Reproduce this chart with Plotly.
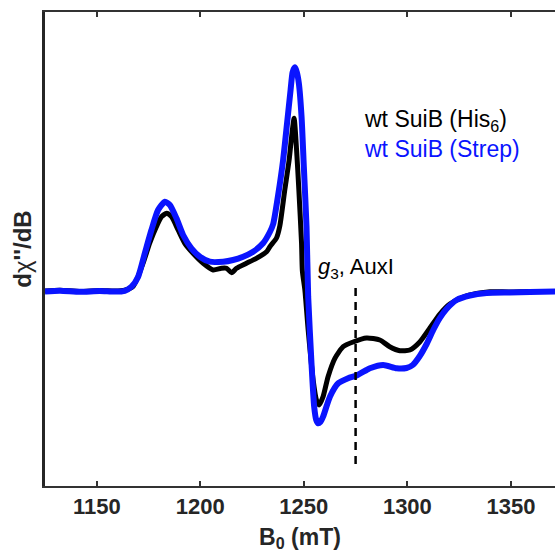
import plotly.graph_objects as go

# Field (mT) and derivative signal (arb. units)
his6_field = [1125.0, 1132.2, 1141.8, 1151.4, 1158.7, 1163.5, 1167.4, 1169.2, 1172.4, 1175.6,
              1178.8, 1181.3, 1183.7, 1186.1, 1189.3, 1192.5, 1196.5, 1201.4, 1206.2, 1210.2,
              1212.7, 1215.1, 1217.5, 1222.3, 1227.1, 1232.0, 1233.6, 1236.8, 1238.4, 1240.8,
              1242.9, 1244.1, 1245.3, 1246.5, 1247.6, 1248.9, 1249.3, 1250.5, 1252.1, 1254.5,
              1256.1, 1257.4, 1259.3, 1261.7, 1265.0, 1269.0, 1273.8, 1280.3, 1286.7, 1291.5,
              1296.4, 1301.2, 1306.0, 1310.9, 1315.7, 1320.5, 1327.0, 1333.4, 1339.9, 1349.5,
              1359.2, 1371.3]
his6_signal = [0.0, 0.8, -0.5, 0.6, 0.0, 0.8, 4.3, 11.0, 28.0, 48.0,
               64.3, 74.3, 77.7, 74.3, 61.0, 47.7, 37.7, 27.7, 21.0, 22.7,
               22.7, 18.3, 22.7, 27.7, 32.7, 39.3, 44.3, 53.0, 65.0, 101.0,
               131.0, 154.3, 172.7, 141.0, 101.0, 47.7, 20.0, 1.0, -39.0, -89.0,
               -109.0, -114.0, -105.7, -85.7, -67.3, -55.7, -51.0, -47.0, -49.0, -55.7,
               -59.7, -59.0, -51.0, -37.0, -23.0, -13.0, -6.0, -2.5, -0.7, -1.0,
               -0.5, -0.5]

strep_field = [1125.0, 1132.2, 1141.8, 1151.4, 1158.7, 1163.5, 1166.8, 1170.0, 1173.2, 1176.4,
               1179.6, 1182.9, 1185.3, 1188.5, 1191.7, 1195.7, 1199.8, 1204.6, 1211.0, 1215.8,
               1220.7, 1225.5, 1230.3, 1233.6, 1235.2, 1237.6, 1240.0, 1241.9, 1243.6, 1244.6,
               1245.7, 1246.6, 1247.6, 1248.9, 1250.0, 1251.3, 1252.1, 1253.7, 1255.0, 1256.0,
               1256.9, 1258.0, 1259.3, 1262.6, 1266.6, 1271.4, 1275.5, 1280.3, 1281.9, 1288.3,
               1294.8, 1299.6, 1302.6, 1306.0, 1309.3, 1312.5, 1315.7, 1318.9, 1323.8, 1330.2,
               1338.3, 1349.5, 1359.2, 1371.3]
strep_signal = [-0.5, 0.2, -0.8, 0.0, -0.6, 0.2, 4.3, 14.3, 37.7, 61.0,
                81.0, 89.3, 86.0, 72.7, 56.0, 42.7, 34.3, 29.3, 29.3, 31.0,
                34.3, 39.3, 47.7, 59.0, 67.0, 96.0, 131.0, 167.7, 201.0, 219.0,
                223.7, 219.0, 207.7, 174.3, 124.3, 64.3, -5.7, -72.3, -115.7, -129.0,
                -132.3, -131.0, -125.7, -105.7, -92.3, -87.3, -84.5, -79.0, -77.3, -74.0,
                -77.3, -77.0, -74.0, -65.0, -53.0, -39.0, -27.0, -18.0, -9.0, -4.5,
                -2.0, -1.5, -1.0, -0.5]

series_names = ["wt SuiB (His<sub>6</sub>)", "wt SuiB (Strep)"]
series_colors = ["#000000", "#0a14ff"]

g3_field = 1275.0
g3_span = [3.0, -177.0]
g3_label = "<i>g</i><sub>3</sub>, AuxI"

x_ticks = [1150, 1200, 1250, 1300, 1350]
x_range = [1125, 1371.3]
y_range = [-195, 279]

FONT = "Liberation Sans, Arial, Helvetica, sans-serif"

fig = go.Figure()
fig.add_trace(go.Scatter(x=his6_field, y=his6_signal, mode="lines",
                         line=dict(color=series_colors[0], width=5, shape="spline", smoothing=0.6),
                         showlegend=False, hoverinfo="skip"))
fig.add_trace(go.Scatter(x=strep_field, y=strep_signal, mode="lines",
                         line=dict(color=series_colors[1], width=6, shape="spline", smoothing=0.6),
                         showlegend=False, hoverinfo="skip"))

fig.add_shape(type="line", xref="x", yref="y", x0=g3_field, x1=g3_field,
              y0=g3_span[0], y1=g3_span[1],
              line=dict(color="black", width=2.5, dash="8px,6px"))
fig.add_annotation(x=g3_field, y=g3_span[0], xref="x", yref="y", text=g3_label,
                   showarrow=False, yanchor="bottom", xanchor="center", yshift=4,
                   font=dict(family=FONT, size=22, color="black"))

fig.add_annotation(xref="paper", yref="paper", x=0.622, y=0.772, xanchor="left", yanchor="middle",
                   text=series_names[0], showarrow=False,
                   font=dict(family=FONT, size=23, color=series_colors[0]))
fig.add_annotation(xref="paper", yref="paper", x=0.622, y=0.712, xanchor="left", yanchor="middle",
                   text=series_names[1], showarrow=False,
                   font=dict(family=FONT, size=23, color=series_colors[1]))

fig.update_layout(
    width=555, height=557,
    margin=dict(l=45, r=0, t=12, b=71),
    paper_bgcolor="white", plot_bgcolor="white",
    font=dict(family=FONT, color="#262626"),
    xaxis=dict(range=x_range, tickvals=x_ticks, ticktext=[f"<b>{t}</b>" for t in x_ticks],
               ticks="inside", ticklen=5, tickwidth=1.5, tickcolor="#333333",
               showline=True, linecolor="#333333", linewidth=2, mirror="ticks",
               showgrid=False, zeroline=False,
               tickfont=dict(family=FONT, size=22, color="#262626"),
               title=dict(text="<b>B<sub>0</sub> (mT)</b>", font=dict(family=FONT, size=23, color="#262626"),
                          standoff=10)),
    yaxis=dict(range=y_range, showticklabels=False, ticks="",
               showline=True, linecolor="#262626", linewidth=2.5,
               showgrid=False, zeroline=False,
               title=dict(text="<b>d</b>χ<b>''/dB</b>", font=dict(family=FONT, size=24, color="#262626"),
                          standoff=4)),
)

fig.write_html("out.html")
